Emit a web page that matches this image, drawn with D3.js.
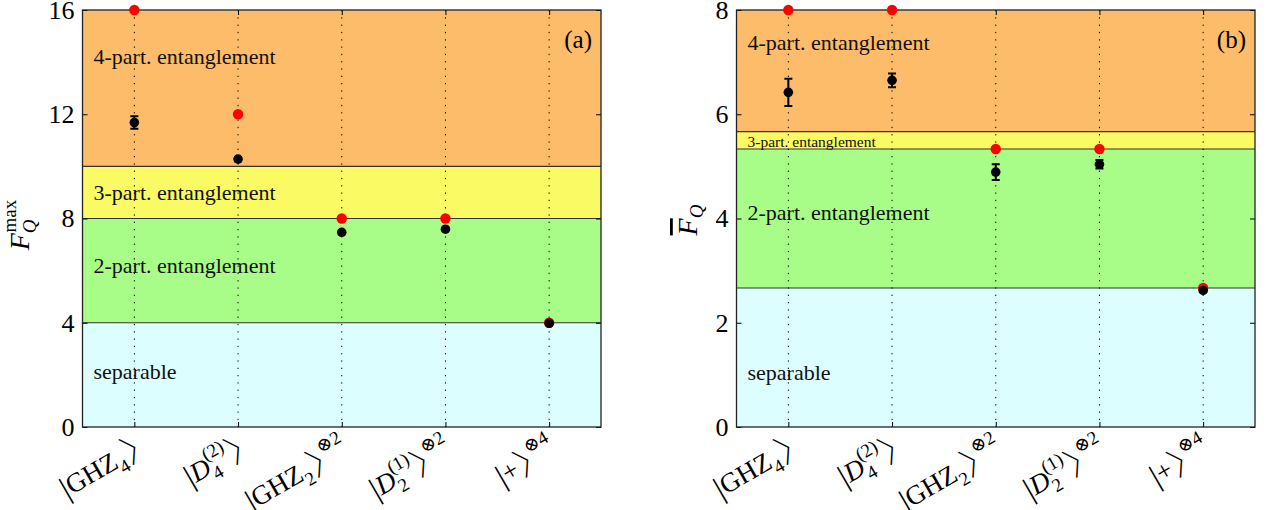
<!DOCTYPE html>
<html lang="en">
<head>
<meta charset="utf-8">
<title>Fisher information and multipartite entanglement</title>
<script src="https://cdn.jsdelivr.net/npm/d3@7"></script>
<style>
body { margin: 0; background: #fff; }
text { font-family: "Liberation Serif", "DejaVu Serif", serif; }
</style>
</head>
<body>
<script>
var w = 1267;
var h = 510;

// states on the x axis
var categories = [1, 2, 3, 4, 5];
var categoryLabels = [
	[["|", "bra"], ["GHZ"], ["4", "sub"], ["\u3009", "ket"]],
	[["|", "bra"], ["D", "i"], ["4", "sub"], ["(2)", "supback"], ["\u3009", "ket"]],
	[["|", "bra"], ["GHZ"], ["2", "sub"], ["\u3009", "ket"], ["\u22972", "sup"]],
	[["|", "bra"], ["D", "i"], ["2", "sub"], ["(1)", "supback"], ["\u3009", "ket"], ["\u22972", "sup"]],
	[["|", "bra"], ["+"], ["\u3009", "ket"], ["\u22974", "sup"]]
];

// panel (a): F_Q^max
var maxTheory   = [16, 12, 8, 8, 4];
var maxMeasured = [11.68, 10.28, 7.47, 7.59, 3.98];
var maxError    = [0.24, 0.08, 0.04, 0.04, 0.03];
var maxBands    = [0, 4, 8, 10, 16];
var maxTicks    = [0, 4, 8, 12, 16];
var maxLabelY   = [1.84, 5.91, 8.71, 13.93];

// panel (b): mean F_Q
var avgTheory   = [8, 8, 16 / 3, 16 / 3, 8 / 3];
var avgMeasured = [6.42, 6.65, 4.89, 5.04, 2.62];
var avgError    = [0.26, 0.13, 0.15, 0.08, 0.03];
var avgBands    = [0, 8 / 3, 16 / 3, 17 / 3, 8];
var avgTicks    = [0, 2, 4, 6, 8];
var avgLabelY   = [0.90, 3.97, 5.37, 7.23];

var bandNames  = ["separable", "2-part. entanglement", "3-part. entanglement", "4-part. entanglement"];
var bandColors = ["#ddfefe", "#a8fc88", "#fafa64", "#fdbc6a"];

var plotTop = 10, plotBottom = 427;

var svg = d3.select("body")
	.append("svg")
	.attr("width", w)
	.attr("height", h);

// write a label made of pieces with sub/superscripts as tspans
function richText(sel, parts, size) {
	var shift = 0;
	parts.forEach(function(p) {
		var kind = p[1] || "n";
		var target = 0, fs = size, dx = 0, italic = false, family = null, spacing = 0;
		if (kind == "i") italic = true;
		if (kind == "bra") { fs = size * 1.15; target = size * 0.06; }
		if (kind == "ket") {
			// full-width bracket: pull in its empty right half
			family = "Noto Sans CJK JP"; fs = size * 1.2; target = size * 0.1;
			dx = size * 0.03; spacing = -fs * 0.52;
		}
		if (kind == "sub") { target = size * 0.3; fs = size * 0.7; }
		if (kind == "sup") { target = -size * 0.55; fs = size * 0.7; }
		if (kind == "supback") { target = -size * 0.5; fs = size * 0.7; dx = -size * 0.36; }
		var t = sel.append("tspan")
			.attr("dy", target - shift)
			.attr("font-size", fs)
			.text(p[0]);
		if (dx) t.attr("dx", dx);
		if (spacing) t.attr("letter-spacing", spacing);
		if (italic) t.attr("font-style", "italic");
		if (family) t.attr("font-family", family).attr("font-weight", 300);
		shift = target;
	});
}

function drawPanel(cfg) {
	var x = d3.scaleLinear().domain([0.5, 5.5]).range([cfg.left, cfg.right]);
	var y = d3.scaleLinear().domain([0, cfg.ymax]).range([plotBottom, plotTop]);
	var g = svg.append("g");

	// coloured regions
	g.selectAll("rect.band")
		.data(bandNames)
		.enter()
		.append("rect")
		.attr("class", "band")
		.attr("x", x(0.5))
		.attr("width", x(5.5) - x(0.5))
		.attr("y", function(d, i) { return y(cfg.bands[i + 1]); })
		.attr("height", function(d, i) { return y(cfg.bands[i]) - y(cfg.bands[i + 1]); })
		.attr("fill", function(d, i) { return bandColors[i]; });

	// borders between the regions
	g.selectAll("line.border")
		.data(cfg.bands.slice(1, 4))
		.enter()
		.append("line")
		.attr("x1", x(0.5))
		.attr("x2", x(5.5))
		.attr("y1", function(d) { return y(d); })
		.attr("y2", function(d) { return y(d); })
		.attr("stroke", "#333")
		.attr("stroke-width", 1.2);

	// dotted guides
	g.selectAll("line.guide")
		.data(categories)
		.enter()
		.append("line")
		.attr("x1", function(d) { return x(d); })
		.attr("x2", function(d) { return x(d); })
		.attr("y1", plotTop)
		.attr("y2", plotBottom)
		.attr("stroke", "#000")
		.attr("stroke-width", 1)
		.attr("stroke-dasharray", "1.3,6");

	// region names
	g.selectAll("text.band")
		.data(bandNames)
		.enter()
		.append("text")
		.attr("x", x(0.5) + 11)
		.attr("y", function(d, i) { return y(cfg.labelY[i]); })
		.attr("font-size", function(d, i) { return cfg.labelSize[i]; })
		.attr("fill", "#111")
		.text(function(d) { return d; });

	// axes
	var yl = g.append("g")
		.attr("transform", "translate(" + x(0.5) + ",0)")
		.call(d3.axisLeft(y).tickValues(cfg.ticks).tickSize(-5).tickSizeOuter(0).tickPadding(8));
	yl.selectAll("text").attr("font-size", 26).attr("font-family", "Liberation Serif").attr("fill", "#000");
	g.append("g")
		.attr("transform", "translate(" + x(5.5) + ",0)")
		.call(d3.axisRight(y).tickValues(cfg.ticks).tickSize(-5).tickSizeOuter(0).tickFormat(""));
	g.append("g")
		.attr("transform", "translate(0," + plotBottom + ")")
		.call(d3.axisBottom(x).tickValues(categories).tickSize(-5).tickSizeOuter(0).tickFormat(""));
	g.append("g")
		.attr("transform", "translate(0," + plotTop + ")")
		.call(d3.axisTop(x).tickValues(categories).tickSize(-5).tickSizeOuter(0).tickFormat(""));
	g.selectAll(".domain").remove();

	g.append("rect")
		.attr("x", x(0.5))
		.attr("y", plotTop)
		.attr("width", x(5.5) - x(0.5))
		.attr("height", plotBottom - plotTop)
		.attr("fill", "none")
		.attr("stroke", "#222")
		.attr("stroke-width", 1.3);

	// theoretical maxima
	g.selectAll("circle.theory")
		.data(cfg.theory)
		.enter()
		.append("circle")
		.attr("cx", function(d, i) { return x(categories[i]); })
		.attr("cy", function(d) { return y(d); })
		.attr("r", 5.2)
		.attr("fill", "#f00");

	// measured values with error bars
	var pts = g.selectAll("g.meas")
		.data(cfg.measured)
		.enter()
		.append("g")
		.attr("transform", function(d, i) { return "translate(" + x(categories[i]) + ",0)"; });
	pts.append("path")
		.attr("d", function(d, i) {
			var e = cfg.error[i], a = y(d + e), b = y(d - e);
			return "M-4," + a + "H4M0," + a + "V" + b + "M-4," + b + "H4";
		})
		.attr("stroke", "#000")
		.attr("stroke-width", 2)
		.attr("fill", "none");
	pts.append("circle")
		.attr("cy", function(d) { return y(d); })
		.attr("r", 4.8)
		.attr("fill", "#000");

	// panel letter
	g.append("text")
		.attr("x", x(5.5) - 9)
		.attr("y", 48)
		.attr("text-anchor", "end")
		.attr("font-size", 25)
		.text(cfg.letter);

	// rotated state labels
	g.selectAll("text.state")
		.data(categoryLabels)
		.enter()
		.append("text")
		.attr("text-anchor", "end")
		.attr("font-size", 27)
		.attr("transform", function(d, i) {
			return "translate(" + (x(categories[i]) + 8) + "," + (plotBottom + 27) + ") rotate(-30)";
		})
		.each(function(d) { richText(d3.select(this), d, 27); });

	return g;
}

drawPanel({
	left: 82.5, right: 601, ymax: 16,
	bands: maxBands, ticks: maxTicks, labelY: maxLabelY,
	labelSize: [22, 22, 22, 22],
	theory: maxTheory, measured: maxMeasured, error: maxError,
	letter: "(a)"
});

drawPanel({
	left: 736.5, right: 1255, ymax: 8,
	bands: avgBands, ticks: avgTicks, labelY: avgLabelY,
	labelSize: [22, 22, 15.5, 22],
	theory: avgTheory, measured: avgMeasured, error: avgError,
	letter: "(b)"
});

// y axis titles
var ya = svg.append("text")
	.attr("transform", "translate(29,225) rotate(-90)")
	.attr("text-anchor", "middle")
	.attr("font-size", 28);
ya.append("tspan").attr("font-style", "italic").text("F");
ya.append("tspan").attr("font-style", "italic").attr("font-size", 19).attr("dy", 7).text("Q");
ya.append("tspan").attr("font-size", 19).attr("dx", -13).attr("dy", -20).text("max");

var yb = svg.append("text")
	.attr("transform", "translate(697,220) rotate(-90)")
	.attr("text-anchor", "middle")
	.attr("font-size", 28);
yb.append("tspan").attr("font-style", "italic").attr("text-decoration", "overline").text("F");
yb.append("tspan").attr("font-style", "italic").attr("font-size", 19).attr("dy", 6).text("Q");
</script>
</body>
</html>
